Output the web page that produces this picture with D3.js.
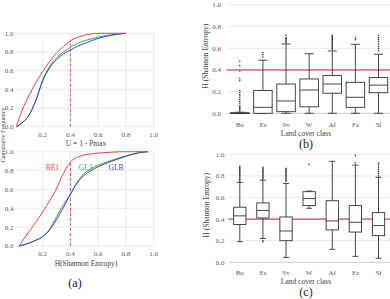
<!DOCTYPE html>
<html><head><meta charset="utf-8">
<script src="https://cdn.jsdelivr.net/npm/d3@7"></script>
<style>body{margin:0;background:#fff}svg{display:block}text{font-family:"Liberation Serif",serif}</style>
</head><body>
<svg id="c" width="390" height="299"></svg>
<script>
// ---------- data ----------
const ticks01 = [0, 0.2, 0.4, 0.6, 0.8, 1.0];
const seriesNames = ["RE1", "GL3", "GLB"];
const seriesColors = ["#e8434b", "#3aa846", "#3b3fc9"];
// (a) top: U = 1 - Pmax
const uX = [0.01, 0.05, 0.1, 0.15, 0.2, 0.25, 0.3, 0.35, 0.4, 0.45, 0.5, 0.55, 0.6, 0.7, 0.8];
const uRE1 = [0, 0.17, 0.33, 0.47, 0.59, 0.70, 0.79, 0.86, 0.92, 0.955, 0.98, 0.993, 1.0, 1.0, 1.0];
const uGL3 = [0, 0.04, 0.12, 0.28, 0.50, 0.645, 0.74, 0.80, 0.85, 0.89, 0.92, 0.94, 0.96, 0.985, 1.0];
const uGLB = [0, 0.04, 0.12, 0.28, 0.49, 0.63, 0.72, 0.78, 0.82, 0.86, 0.89, 0.92, 0.945, 0.98, 1.0];
// (a) bottom: H (Shannon entropy)
const hX = [0.03, 0.1, 0.15, 0.2, 0.25, 0.3, 0.35, 0.4, 0.45, 0.5, 0.55, 0.6, 0.7, 0.8, 0.9, 0.96];
const hRE1 = [0, 0.15, 0.25, 0.36, 0.48, 0.61, 0.77, 0.89, 0.94, 0.965, 0.978, 0.985, 0.995, 1.0, 1.0, 1.0];
const hGL3 = [0, 0.03, 0.06, 0.10, 0.18, 0.31, 0.44, 0.55, 0.68, 0.77, 0.82, 0.855, 0.91, 0.955, 0.99, 1.0];
const hGLB = [0, 0.03, 0.06, 0.10, 0.17, 0.28, 0.41, 0.55, 0.67, 0.75, 0.80, 0.84, 0.90, 0.95, 0.99, 1.0];
const threshold = 0.4;

// (b) and (c) box plots
const categories = ["Bu", "Es", "Sv", "W", "Af", "Fa", "Sf"];
const bQ1  = [0, 0, 0.015, 0.06, 0.185, 0.055, 0.19];
const bMed = [0, 0.055, 0.114, 0.215, 0.27, 0.148, 0.26];
const bQ3  = [0.005, 0.21, 0.27, 0.317, 0.35, 0.286, 0.33];
const bLo  = [0, 0, 0, 0, 0, 0, 0];
const bHi  = [0.01, 0.49, 0.64, 0.55, 0.575, 0.637, 0.545];
const bOut = [
  [0.02,0.03,0.04,0.05,0.06,0.07,0.09,0.11,0.13,0.15,0.17,0.19,0.21,0.3,0.32,0.39,0.44,0.48],
  [0.52,0.54,0.56],
  [0.65,0.66,0.67,0.68,0.69,0.70,0.72],
  [],
  [0.59,0.60,0.61,0.62,0.63,0.64,0.65,0.66,0.67,0.68,0.69,0.70,0.71,0.72],
  [0.68,0.70],
  [0.58,0.60,0.62,0.64,0.66,0.68,0.70,0.72]
];
const cQ1  = [0.35, 0.41, 0.20, 0.525, 0.30, 0.28, 0.247];
const cMed = [0.43, 0.48, 0.29, 0.59, 0.383, 0.37, 0.34];
const cQ3  = [0.51, 0.55, 0.42, 0.654, 0.57, 0.525, 0.46];
const cLo  = [0.19, 0.22, 0.045, 0.50, 0.12, 0.055, 0.037];
const cHi  = [0.74, 0.76, 0.73, 0.66, 0.935, 0.90, 0.787];
const cOut = [
  [0.75,0.76,0.77,0.78,0.79,0.80,0.81,0.82,0.83,0.84,0.85,0.86,0.87,0.88,0.89],
  [0.19,0.20,0.77,0.78,0.79,0.80,0.81,0.82,0.83,0.84,0.85,0.86,0.87,0.88],
  [0.75,0.76,0.77,0.78,0.79,0.80,0.81,0.82,0.83,0.84,0.85,0.86,0.87],
  [0.907],
  [],
  [0.92,0.99],
  [0.80,0.82,0.84,0.86,0.88,0.90,0.92]
];

// ---------- drawing ----------
const svg = d3.select("#c");
const grid = "#e3e3e3", tickCol = "#5a5a5a", lblCol = "#444";
const fmt = d3.format(".1f");

function cdfPanel(yTop, yBot, xs, ys, xTitle, labels) {
  const x = d3.scaleLinear().domain([0, 1]).range([15, 153.5]);
  const y = d3.scaleLinear().domain([0, 1]).range([yBot, yTop]);
  const g = svg.append("g");
  g.append("g").selectAll("line").data(ticks01).join("line")
    .attr("x1", x(0)).attr("x2", x(1)).attr("y1", d => y(d)).attr("y2", d => y(d))
    .attr("stroke", grid).attr("stroke-width", 0.8);
  g.append("g").selectAll("line").data(ticks01.slice(1)).join("line")
    .attr("x1", d => x(d)).attr("x2", d => x(d)).attr("y1", y(0)).attr("y2", y(1))
    .attr("stroke", grid).attr("stroke-width", 0.8);
  g.append("g").selectAll("text").data(ticks01).join("text")
    .attr("x", 13.5).attr("y", d => y(d) + 2.4).attr("text-anchor", "end")
    .attr("font-size", 7).attr("fill", tickCol).text(fmt);
  g.append("g").selectAll("text").data(ticks01.slice(1)).join("text")
    .attr("x", d => x(d)).attr("y", y(0) + 10).attr("text-anchor", "middle")
    .attr("font-size", 7).attr("fill", tickCol).text(fmt);
  g.append("text").attr("x", 86).attr("y", y(0) + 19.5).attr("text-anchor", "middle")
    .attr("font-size", 7.5).attr("fill", lblCol).text(xTitle);
  const line = d3.line().x((d, i) => x(xs[i])).y(d => y(d)).curve(d3.curveMonotoneX);
  const redAt = d3.scaleLinear().domain(xs).range(ys[0])(threshold);
  g.append("line").attr("x1", x(threshold)).attr("x2", x(threshold))
    .attr("y1", y(0)).attr("y2", y(redAt))
    .attr("stroke", "#e8434b").attr("stroke-width", 0.9).attr("stroke-dasharray", "3,2");
  [1, 2, 0].forEach(k => {
    g.append("path").attr("d", line(ys[k])).attr("fill", "none")
      .attr("stroke", seriesColors[k]).attr("stroke-width", 1);
  });
  if (labels) {
    labels.forEach((p, k) => {
      g.append("text").attr("x", x(p[0])).attr("y", y(p[1]) + 2.5).attr("text-anchor", "middle")
        .attr("font-size", 7.5).attr("fill", seriesColors[k]).text(seriesNames[k]);
    });
  }
  return g;
}

cdfPanel(33.3, 126.7, uX, [uRE1, uGL3, uGLB], "U = 1 - Pmax");
cdfPanel(151.7, 246, hX, [hRE1, hGL3, hGLB], "H(Shannon Entropy)",
  [[0.27, 0.835], [0.51, 0.835], [0.73, 0.835]]);

svg.append("text").attr("transform", "translate(5,135) rotate(-90)").attr("text-anchor", "middle")
  .attr("font-size", 6).attr("fill", lblCol).text("Cumulative Frequency");
svg.append("text").attr("x", 75).attr("y", 287).attr("text-anchor", "middle")
  .attr("font-size", 12).attr("fill", "#222").text("(a)");

function boxPanel(yTop, yBot, gridLeft, tickRight, titleX, q1, med, q3, lo, hi, out, boxW, capW, catY, panelLbl) {
  const x = d3.scalePoint().domain(categories).range([239.8, 378.5]);
  const y = d3.scaleLinear().domain([0, 1]).range([yBot, yTop]);
  const g = svg.append("g");
  g.append("g").selectAll("line").data(ticks01).join("line")
    .attr("x1", gridLeft).attr("x2", 390).attr("y1", d => y(d)).attr("y2", d => y(d))
    .attr("stroke", d => d === 0 ? "#bdbdbd" : grid).attr("stroke-width", 0.8);
  g.append("g").selectAll("text").data(ticks01).join("text")
    .attr("x", tickRight).attr("y", d => y(d) + 2.4).attr("text-anchor", "end")
    .attr("font-size", 7).attr("fill", tickCol).text(fmt);
  g.append("text").attr("transform", `translate(${titleX},${(yTop + yBot) / 2 - 3}) rotate(-90)`)
    .attr("text-anchor", "middle").attr("font-size", 7.5).attr("fill", lblCol).text("H (Shannon Entropy)");
  g.append("line").attr("x1", gridLeft).attr("x2", 390).attr("y1", y(threshold)).attr("y2", y(threshold))
    .attr("stroke", "#c0282d").attr("stroke-width", 1);
  const st = "#333";
  categories.forEach((c, i) => {
    const cx = x(c);
    g.append("line").attr("x1", cx).attr("x2", cx).attr("y1", y(q3[i])).attr("y2", y(hi[i])).attr("stroke", st).attr("stroke-width", 0.9);
    g.append("line").attr("x1", cx).attr("x2", cx).attr("y1", y(q1[i])).attr("y2", y(lo[i])).attr("stroke", st).attr("stroke-width", 0.9);
    [lo[i], hi[i]].forEach(v => g.append("line").attr("x1", cx - capW / 2).attr("x2", cx + capW / 2)
      .attr("y1", y(v)).attr("y2", y(v)).attr("stroke", st).attr("stroke-width", 0.9));
    g.append("rect").attr("x", cx - boxW / 2).attr("width", boxW).attr("y", y(q3[i]))
      .attr("height", Math.max(0.8, y(q1[i]) - y(q3[i]))).attr("fill", "#fff").attr("stroke", st).attr("stroke-width", 0.9);
    g.append("line").attr("x1", cx - boxW / 2).attr("x2", cx + boxW / 2).attr("y1", y(med[i])).attr("y2", y(med[i]))
      .attr("stroke", st).attr("stroke-width", 0.9);
    g.append("g").selectAll("circle").data(out[i]).join("circle")
      .attr("cx", cx).attr("cy", d => y(d)).attr("r", 0.8).attr("fill", st);
  });
  g.append("g").selectAll("text").data(categories).join("text")
    .attr("x", d => x(d)).attr("y", catY).attr("text-anchor", "middle")
    .attr("font-size", 7).attr("fill", tickCol).text(d => d);
  g.append("text").attr("x", 306).attr("y", catY + 9).attr("text-anchor", "middle")
    .attr("font-size", 7.5).attr("fill", lblCol).text("Land cover class");
  g.append("text").attr("x", 306).attr("y", catY + 21).attr("text-anchor", "middle")
    .attr("font-size", 12).attr("fill", "#222").text(panelLbl);
}

boxPanel(5, 113.3, 226.7, 221, 208, bQ1, bMed, bQ3, bLo, bHi, bOut, 18.5, 9, 126.5, "(b)");
boxPanel(154.3, 262.3, 228.3, 224.5, 209, cQ1, cMed, cQ3, cLo, cHi, cOut, 12.3, 6, 275, "(c)");
</script>
</body></html>
